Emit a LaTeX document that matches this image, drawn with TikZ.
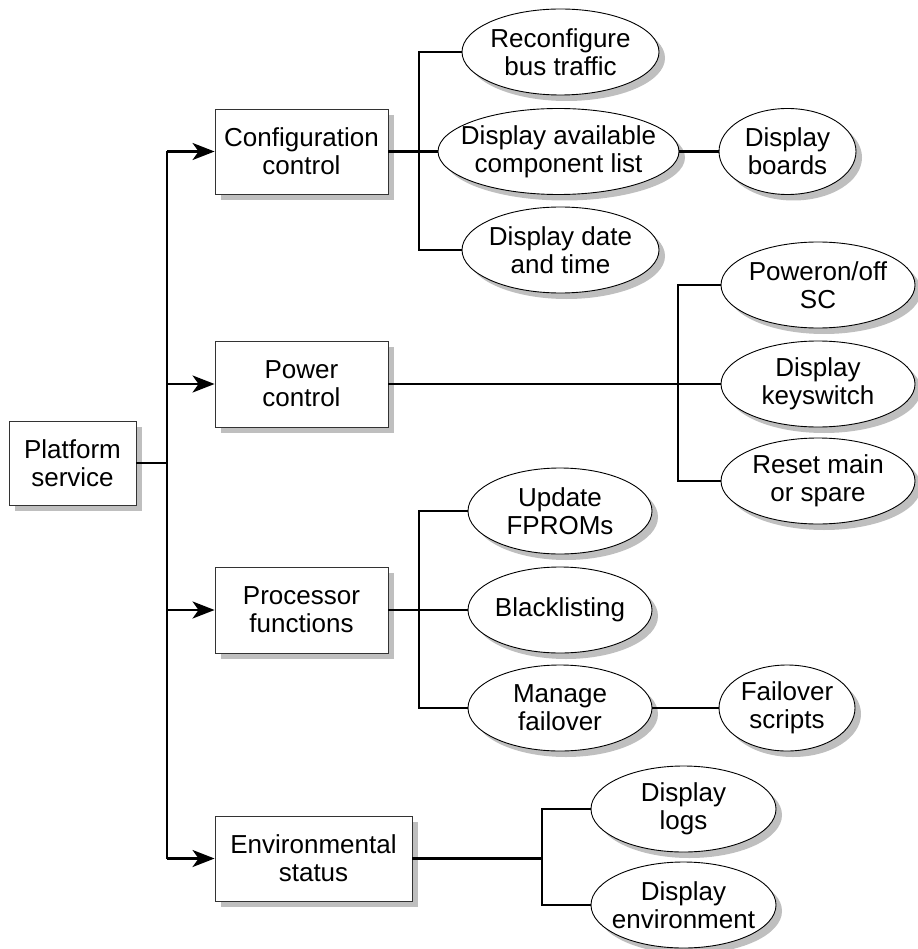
\documentclass[tikz,border=0pt]{standalone}
\usepackage{fontspec}
\setmainfont{Liberation Sans}
\usetikzlibrary{shapes.geometric,arrows.meta,shadows}
\begin{document}
\begin{tikzpicture}[x=1pt,y=-1pt,
  dshadow/.style={drop shadow={shadow xshift=6pt,shadow yshift=-6pt,fill=black!25,opacity=1}},
  box/.style={rectangle,draw=black!80,line width=0.9pt,fill=white,dshadow,align=center,
    font=\fontsize{26}{28}\selectfont,inner sep=0pt},
  oval/.style={ellipse,draw=black,line width=0.9pt,fill=white,dshadow,minimum height=86pt,inner sep=0pt},
  lbl/.style={align=center,font=\fontsize{26}{28}\selectfont,inner sep=0pt},
  link/.style={draw=black,line width=2.5pt,line join=miter},
  arr/.style={link,-{Stealth[length=22pt,width=17pt,inset=6pt]}}
]
\useasboundingbox (0,0) rectangle (917,949);
% boxes
\node[box,minimum width=127pt,minimum height=84pt] (plat) at (72.5,463) {Platform\\service};
\node[box,minimum width=173pt,minimum height=85pt] (cfg) at (301.5,151.5) {Configuration\\control};
\node[box,minimum width=173pt,minimum height=86pt] (pow) at (301.5,384) {Power\\control};
\node[box,minimum width=173pt,minimum height=86pt] (proc) at (301.5,610) {Processor\\functions};
\node[box,minimum width=197pt,minimum height=85pt] (env) at (313.5,858.5) {Environmental\\status};
% ovals
\node[oval,minimum width=197pt] (reconf) at (560.5,52) {};
\node[oval,minimum width=241pt] (avail) at (558.5,151.5) {};
\node[oval,minimum width=197pt] (date) at (560.5,250) {};
\node[oval,minimum width=137pt] (boards) at (787.5,151.5) {};
\node[oval,minimum width=194pt] (pon) at (818,285) {};
\node[oval,minimum width=194pt] (keys) at (818,384) {};
\node[oval,minimum width=194pt] (reset) at (818,481) {};
\node[oval,minimum width=184pt] (fprom) at (560,511) {};
\node[oval,minimum width=184pt] (black) at (560,610) {};
\node[oval,minimum width=184pt] (fail) at (560,708) {};
\node[oval,minimum width=136pt] (fscr) at (787,708) {};
\node[oval,minimum width=185pt] (logs) at (683.5,809) {};
\node[oval,minimum width=185pt] (envd) at (683.5,905) {};
% oval texts
\node[lbl] (reconfT) at (reconf) {Reconfigure\\bus traffic};
\node[lbl] (availT) at (avail) {Display available\\component list};
\node[lbl] (dateT) at (date) {Display date\\and time};
\node[lbl] (boardsT) at (boards) {Display\\boards};
\node[lbl] (ponT) at (pon) {Poweron/off\\SC};
\node[lbl] (keysT) at (keys) {Display\\keyswitch};
\node[lbl] (resetT) at (reset) {Reset main\\or spare};
\node[lbl] (fpromT) at (fprom) {Update\\FPROMs};
\node[lbl] (blackT) at (black) {Blacklisting};
\node[lbl] (failT) at (fail) {Manage\\failover};
\node[lbl] (fscrT) at (fscr) {Failover\\scripts};
\node[lbl] (logsT) at (logs) {Display\\logs};
\node[lbl] (envdT) at (envd) {Display\\environment};
% junction coordinates
\coordinate (tx) at (167,463);
\coordinate (cj) at (419,151.5);
\coordinate (pj) at (678,384);
\coordinate (qj) at (419,610);
\coordinate (ej) at (542,858.5);
% trunk
\draw[link] (plat.east) -- (tx);
\draw[link] (tx |- cfg.west) -- (tx |- env.west);
\draw[arr] (tx |- cfg.west) -- (cfg.west);
\draw[arr] (tx |- pow.west) -- (pow.west);
\draw[arr] (tx |- proc.west) -- (proc.west);
\draw[arr] (tx |- env.west) -- (env.west);
% configuration
\draw[link] (cfg.east) -- (avail.west);
\draw[link] (reconf.west) -- (cj |- reconf.west) -- (cj |- date.west) -- (date.west);
\draw[link] (avail.east) -- (boards.west);
% power
\draw[link] (pow.east) -- (keys.west);
\draw[link] (pon.west) -- (pj |- pon.west) -- (pj |- reset.west) -- (reset.west);
% processor
\draw[link] (proc.east) -- (black.west);
\draw[link] (fprom.west) -- (qj |- fprom.west) -- (qj |- fail.west) -- (fail.west);
\draw[link] (fail.east) -- (fscr.west);
% environmental
\draw[link] (env.east) -- (ej);
\draw[link] (logs.west) -- (ej |- logs.west) -- (ej |- envd.west) -- (envd.west);
\end{tikzpicture}
\end{document}
